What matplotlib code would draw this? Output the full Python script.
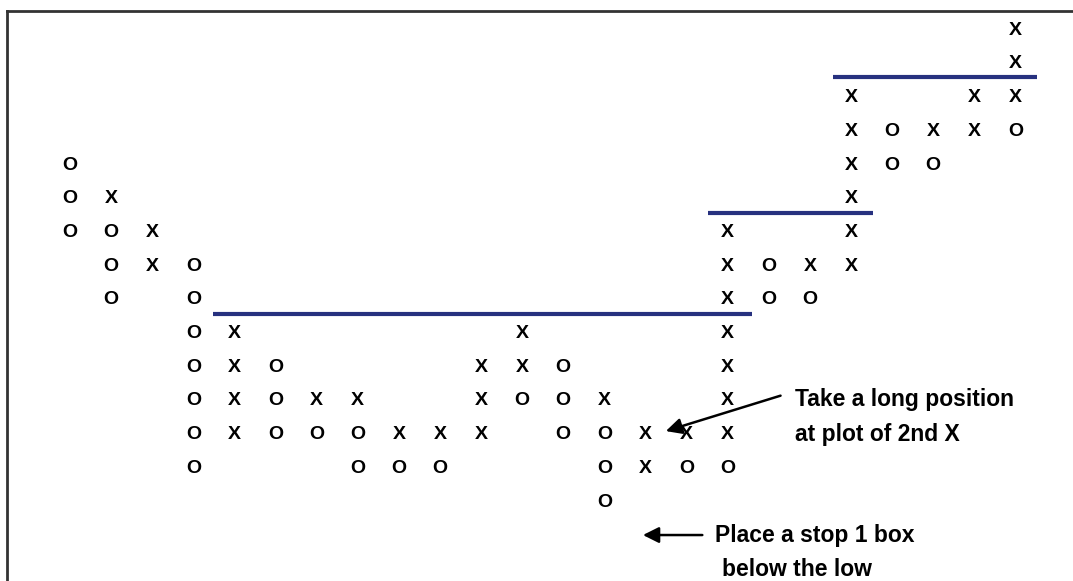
import matplotlib.pyplot as plt

# point & figure columns: rows (box levels) holding X and O in each column
x_rows = [[], [9], [7, 8], [], [2, 3, 4, 5], [], [3], [3], [2], [2], [2, 3, 4], [4, 5],
          [], [3], [1, 2], [2], [2, 3, 4, 5, 6, 7, 8], [], [7], [7, 8, 9, 10, 11, 12],
          [], [11], [11, 12], [12, 13, 14]]
o_rows = [[8, 9, 10], [6, 7, 8], [], [1, 2, 3, 4, 5, 6, 7], [], [2, 3, 4], [2], [1, 2], [1], [1],
          [], [3], [2, 3, 4], [0, 1, 2], [], [1], [1], [6, 7], [6], [],
          [10, 11], [10], [], [11]]

# breakout lines: level, start column, end column
line_levels = [5.58, 8.58, 12.61]
line_starts = [3.48, 15.52, 18.56]
line_ends = [16.6, 19.54, 23.53]

fig = plt.figure(figsize=(10.73, 5.81), dpi=100)
ax = fig.add_axes([7 / 1073, 0, 1 - 7 / 1073, 1 - 11 / 581])
ax.set_xlim(-1.533, 24.40)
ax.set_ylim(-2.344, 14.57)
ax.set_xticks([])
ax.set_yticks([])
ax.spines['right'].set_visible(False)
ax.spines['bottom'].set_visible(False)
for s in ['left', 'top']:
    ax.spines[s].set_linewidth(2)
    ax.spines[s].set_color('#333333')

font = dict(family='Liberation Sans', fontweight='bold', fontsize=14)

for col in range(len(x_rows)):
    for r in x_rows[col]:
        ax.text(col, r, 'X', ha='center', va='center', **font)
    for r in o_rows[col]:
        ax.text(col, r, 'O', ha='center', va='center', **font)

for lvl, x0, x1 in zip(line_levels, line_starts, line_ends):
    ax.plot([x0, x1], [lvl, lvl], color='#27317f', lw=3, solid_capstyle='butt')

note = dict(family='Liberation Sans', fontweight='bold', fontsize=16.5)
ax.text(17.64, 3.03, 'Take a long position', ha='left', va='center', **note)
ax.text(17.64, 1.99, 'at plot of 2nd X', ha='left', va='center', **note)
ax.annotate('', xy=(14.43, 2.08), xytext=(17.35, 3.18),
            arrowprops=dict(arrowstyle='-|>', lw=1.8, color='black', mutation_scale=24))

ax.text(15.69, -0.98, 'Place a stop 1 box', ha='left', va='center', **note)
ax.text(15.87, -2.0, 'below the low', ha='left', va='center', **note)
ax.annotate('', xy=(13.87, -0.98), xytext=(15.45, -0.98),
            arrowprops=dict(arrowstyle='-|>', lw=1.8, color='black', mutation_scale=24))

fig.savefig('out.png', dpi=100)
